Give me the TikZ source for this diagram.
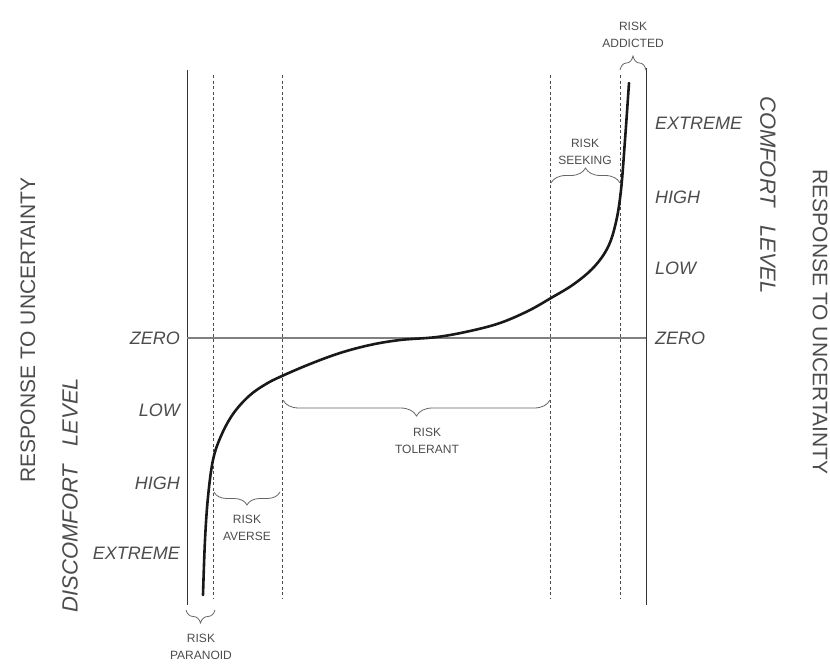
\documentclass[tikz,border=0pt]{standalone}
\usepackage{fontspec}
\setmainfont{Liberation Sans}
\usetikzlibrary{positioning,decorations.pathreplacing}
\definecolor{inkgray}{gray}{0.3}
\newcommand{\lvlsize}{\fontsize{18}{20}\selectfont\itshape}
\newcommand{\sidesize}{\fontsize{22}{24}\selectfont\itshape}
\newcommand{\axsize}{\fontsize{21}{24}\selectfont}
\newcommand{\brsize}{\fontsize{12}{17}\selectfont}
\tikzset{
  frame/.style={line width=1pt,black!80},
  zline/.style={line width=1.3pt,black!50},
  dline/.style={line width=1pt,black!70,dash pattern=on 3pt off 2.5pt},
  curve/.style={line width=2.6pt,black!90,line cap=round},
  brc/.style={decorate,decoration={brace,amplitude=#1},line width=0.8pt,black!60},
  brc/.default=12pt,
  lvl/.style={font=\lvlsize,text=inkgray,inner sep=0pt},
  side/.style={font=\sidesize,text=inkgray,inner sep=0pt},
  axlbl/.style={font=\axsize,text=inkgray,inner sep=0pt},
  brlbl/.style={font=\brsize,text=inkgray,align=center,inner sep=0pt},
}
\begin{document}
\begin{tikzpicture}[x=1pt,y=-1pt]
  \useasboundingbox (0,0) rectangle (830,665);
  % frame and zero line
  \coordinate (lt) at (187,70);  \coordinate (lb) at (187,605);
  \coordinate (rt) at (646,68);  \coordinate (rb) at (646,605);
  \coordinate (zl) at (187,338); \coordinate (zr) at (646,338);
  \draw[frame] (lt) -- (lb);
  \draw[frame] (rt) -- (rb);
  \draw[zline] (zl) -- (zr);
  % zone boundaries
  \foreach \x in {213,282,550,620}
    \draw[dline] (\x,75) -- (\x,598);
  % response curve
  \draw[curve] plot[smooth,tension=0.6] coordinates {
    (203,595) (205,540) (208,497) (213,460) (221,436) (233,414) (249,396)
    (266,384) (282,376) (310,364) (340,353) (370,345) (400,340) (437,337)
    (470,331) (500,323) (528,311) (551,298) (574,284) (594,267) (608,247)
    (616,222) (621,190) (625,140) (629,83)};
  % level labels
  \foreach \t/\y in {ZERO/338,LOW/410,HIGH/483,EXTREME/553}
    \node[lvl,anchor=east] at (180,\y) {\t};
  \foreach \t/\y in {EXTREME/123,HIGH/197,LOW/268,ZERO/338}
    \node[lvl,anchor=west] at (655,\y) {\t};
  % axis titles
  \node[axlbl,rotate=90] (respL) at (28,330) {RESPONSE TO UNCERTAINTY};
  \node[axlbl,rotate=-90] (respR) at (820,322) {RESPONSE TO UNCERTAINTY};
  \node[side,rotate=90] (discomf) at (70,495) {DISCOMFORT\ \ \ LEVEL};
  \node[side,rotate=-90] (comf) at (768,195) {COMFORT\ \ \ LEVEL};
  % risk zones
  \draw[brc=13pt] (215,610) -- (186,610);
  \node[brlbl,anchor=north] (paranoid) at (201,634) {RISK\\PARANOID};
  \draw[brc=13pt] (280,492) -- (214,492);
  \node[brlbl,anchor=north] (averse) at (247,515) {RISK\\AVERSE};
  \draw[brc=16pt] (550,400) -- (283,400);
  \node[brlbl,anchor=north] (tolerant) at (427,428) {RISK\\TOLERANT};
  \draw[brc=15pt] (551,183) -- (620,183);
  \node[brlbl,anchor=south] (seeking) at (585,165) {RISK\\SEEKING};
  \draw[brc=14pt] (620,70) -- (646,70);
  \node[brlbl,anchor=south] (addicted) at (633,48) {RISK\\ADDICTED};
\end{tikzpicture}
\end{document}
